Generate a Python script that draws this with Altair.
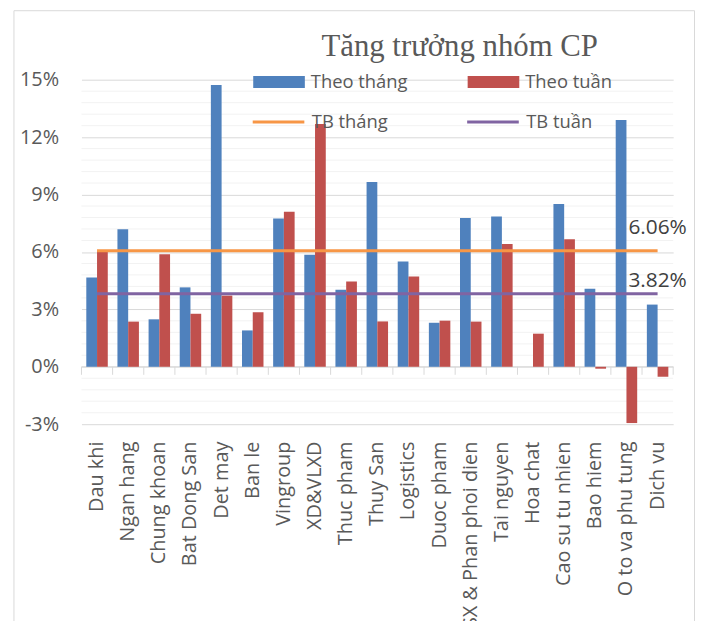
import altair as alt
import pandas as pd

categories = ["Dau khi", "Ngan hang", "Chung khoan", "Bat Dong San", "Det may", "Ban le",
              "Vingroup", "XD&VLXD", "Thuc pham", "Thuy San", "Logistics", "Duoc pham",
              "SX & Phan phoi dien", "Tai nguyen", "Hoa chat", "Cao su tu nhien", "Bao hiem",
              "O to va phu tung", "Dich vu"]
theo_thang = [4.67, 7.18, 2.48, 4.15, 14.72, 1.90, 7.75, 5.85, 4.02, 9.65, 5.50, 2.30,
              7.77, 7.85, 0.0, 8.51, 4.08, 12.89, 3.25]
theo_tuan = [6.05, 2.36, 5.88, 2.77, 3.72, 2.85, 8.10, 12.68, 4.45, 2.37, 4.72, 2.41,
             2.36, 6.42, 1.73, 6.66, -0.10, -2.94, -0.52]
tb_thang = 6.06
tb_tuan = 3.82

bar_series = ["Theo tháng", "Theo tuần"]
bar_colors = ["#4F81BD", "#C0504D"]
line_series = ["TB tháng", "TB tuần"]
line_colors = ["#F79646", "#8064A2"]
y_ticks = [-3, 0, 3, 6, 9, 12, 15]
minor_ticks = [round(-3 + 0.6 * i, 1) for i in range(31) if i % 5 != 0]

W, H = 596, 347
FONT = "Open Sans"
GRAY = "#595959"

bars_df = pd.DataFrame({
    "category": categories * 2,
    "series": [bar_series[0]] * len(categories) + [bar_series[1]] * len(categories),
    "value": theo_thang + theo_tuan,
})
lines_df = pd.DataFrame({
    "category": categories * 2,
    "series": [line_series[0]] * len(categories) + [line_series[1]] * len(categories),
    "value": [tb_thang] * len(categories) + [tb_tuan] * len(categories),
})
minor_df = pd.DataFrame({"v": minor_ticks})
cat_df = pd.DataFrame({"category": categories})
last_df = pd.DataFrame({"category": categories[-1:]})
lab1_df = pd.DataFrame({"category": categories[-1:], "value": [tb_thang], "text": [f"{tb_thang:.2f}%"]})
lab2_df = pd.DataFrame({"category": categories[-1:], "value": [tb_tuan], "text": [f"{tb_tuan:.2f}%"]})
one_df = pd.DataFrame({"a": [0]})

xscale = alt.Scale(domain=categories, paddingInner=0, paddingOuter=0)
yscale = alt.Scale(domain=[-3, 15], nice=False)

x_enc = alt.X("category:N", sort=categories, scale=xscale,
              axis=alt.Axis(labelAngle=-90, labelFontSize=20, labelFont=FONT, labelColor=GRAY,
                            ticks=False, domain=False, labelPadding=17, grid=False,
                            labelLimit=400), title=None)
y_enc = alt.Y("value:Q", scale=yscale,
              axis=alt.Axis(values=y_ticks, labelExpr="datum.value + '%'", grid=True,
                            gridColor="#D9D9D9", domain=False, ticks=False, labelFontSize=20,
                            labelFont=FONT, labelColor=GRAY, labelPadding=23), title=None)

border = alt.Chart(one_df).mark_rect(fill="transparent", stroke="#D9D9D9", strokeWidth=1).encode(
    x=alt.value(-68), x2=alt.value(617.5), y=alt.value(-69.5), y2=alt.value(700))

minor = alt.Chart(minor_df).mark_rule(color="#F2F2F2", strokeWidth=1).encode(
    y=alt.Y("v:Q", scale=yscale))

zero = alt.Chart(one_df).mark_rule(color="#D9D9D9", strokeWidth=1).encode(y=alt.datum(0))

ticks = alt.Chart(cat_df).mark_rule(color="#D9D9D9", strokeWidth=1).encode(
    x=alt.X("category:N", sort=categories, scale=xscale, bandPosition=0),
    y=alt.datum(0), y2=alt.datum(-0.42))
ticks_last = alt.Chart(last_df).mark_rule(color="#D9D9D9", strokeWidth=1).encode(
    x=alt.X("category:N", sort=categories, scale=xscale, bandPosition=1),
    y=alt.datum(0), y2=alt.datum(-0.42))

bars = alt.Chart(bars_df).mark_bar().encode(
    x=x_enc,
    xOffset=alt.XOffset("series:N", sort=bar_series,
                        scale=alt.Scale(domain=bar_series, paddingOuter=0.45, paddingInner=0)),
    y=y_enc,
    color=alt.Color("series:N", scale=alt.Scale(domain=bar_series, range=bar_colors),
                    legend=alt.Legend(title=None, orient="none", legendX=173, legendY=-24,
                                      direction="horizontal", columns=2, columnPadding=60,
                                      symbolType="M-1,-0.23H1V0.23H-1Z", symbolSize=2704,
                                      symbolStrokeWidth=0, labelOffset=6, labelFontSize=18.5,
                                      labelFont=FONT, labelColor=GRAY, padding=0)),
)

lines = alt.Chart(lines_df).mark_line(strokeWidth=3).encode(
    x=alt.X("category:N", sort=categories, scale=xscale),
    y=alt.Y("value:Q", scale=yscale),
    stroke=alt.Stroke("series:N", scale=alt.Scale(domain=line_series, range=line_colors),
                      legend=alt.Legend(title=None, orient="none", legendX=171, legendY=15,
                                        direction="horizontal", columns=2, columnPadding=73,
                                        symbolType="stroke", symbolSize=2704,
                                        symbolStrokeWidth=3, labelOffset=6, labelFontSize=18.5,
                                        labelFont=FONT, labelColor=GRAY, padding=0)),
)

lab1 = alt.Chart(lab1_df).mark_text(dy=-17, baseline="alphabetic", align="center", fontSize=21,
                                    font=FONT, color="#404040").encode(
    x=alt.X("category:N", sort=categories, scale=xscale),
    y=alt.Y("value:Q", scale=yscale), text="text:N")
lab2 = alt.Chart(lab2_df).mark_text(dy=-7, baseline="alphabetic", align="center", fontSize=21,
                                    font=FONT, color="#404040").encode(
    x=alt.X("category:N", sort=categories, scale=xscale),
    y=alt.Y("value:Q", scale=yscale), text="text:N")

chart = alt.layer(border, minor, zero, ticks, ticks_last, bars, lines, lab1, lab2).properties(
    width=W, height=H,
    padding={"left": 74, "top": 70, "right": 23, "bottom": 196},
    autosize=alt.AutoSizeParams(type="none"),
    title=alt.TitleParams("Tăng trưởng nhóm CP", font="Liberation Serif", fontSize=31,
                          fontWeight="normal", color=GRAY, anchor="middle", dx=83, offset=0,
                          baseline="alphabetic", dy=77),
).resolve_scale(color="independent").configure_view(stroke=None)

chart.save("out.html", embed_options={"renderer": "svg", "actions": False})
